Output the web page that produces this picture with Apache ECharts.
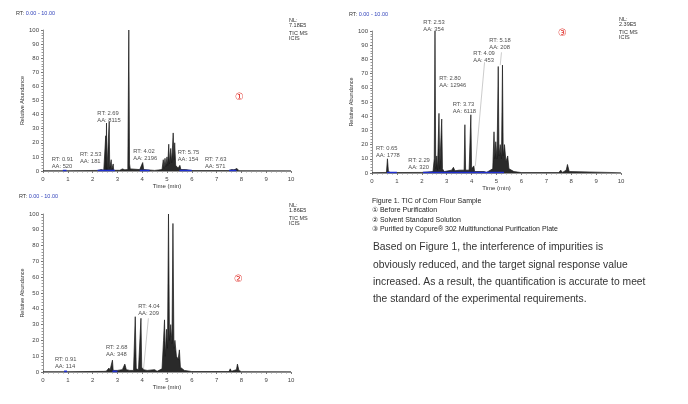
<!DOCTYPE html>
<html><head><meta charset="utf-8">
<script src="https://cdn.jsdelivr.net/npm/echarts@6/dist/echarts.min.js"></script>
<style>html,body{margin:0;padding:0;background:#fff;}#c{width:688px;height:404px;}</style>
</head><body><div id="c"></div>
<script>
// ---- data ----
const xTicks = [0,1,2,3,4,5,6,7,8,9,10];
const yTicks = [0,10,20,30,40,50,60,70,80,90,100];

// panel 1: before purification  [time (min), relative abundance]
const tic1 = [[0,0.2],[0.85,0.2],[0.9,1.2],[0.95,0.2],[2.2,0.4],[2.35,1],[2.45,0.5],[2.51,0.5],[2.53,25],[2.545,1],[2.56,34],[2.58,1],[2.65,1],[2.67,35],[2.69,2],[2.73,1],[2.75,8],[2.77,1],[2.81,1],[2.83,5],[2.85,0.5],[3.1,0.5],[3.2,1.5],[3.3,0.8],[3.42,1],[3.46,100],[3.49,5],[3.52,1.5],[3.6,0.8],[3.9,1],[4.02,6],[4.06,1],[4.5,0.4],[4.8,1],[4.85,8],[4.88,2],[4.92,9],[4.95,3],[5.0,10],[5.03,4],[5.07,19],[5.1,5],[5.15,16],[5.19,6],[5.25,27],[5.28,8],[5.31,20],[5.35,4],[5.4,5],[5.45,2],[5.52,4],[5.56,1],[5.75,1],[6,0.3],[7.5,0.3],[7.6,1],[7.7,0.8],[7.82,1.8],[7.9,0.2],[10,0.2]];
// panel 2: solvent standard solution
const tic2 = [[0,0.2],[0.85,0.2],[0.91,0.8],[0.97,0.2],[2.45,0.4],[2.5,1.5],[2.55,0.5],[2.62,1],[2.66,2.5],[2.7,1],[2.78,1],[2.8,7.5],[2.83,1],[2.9,1],[3.0,1],[3.2,1.5],[3.3,5],[3.36,1.5],[3.5,1],[3.65,1],[3.72,35],[3.76,2],[3.85,1.5],[3.95,34],[3.98,3],[4.05,1.5],[4.2,1],[4.5,1.5],[4.6,0.4],[4.8,2],[4.86,20],[4.9,33],[4.93,10],[4.98,27],[5.02,15],[5.06,100],[5.1,20],[5.15,30],[5.2,18],[5.24,94],[5.28,15],[5.32,20],[5.38,10],[5.45,8],[5.5,14],[5.54,3],[5.7,1],[6,0.3],[7.5,0.3],[7.55,2],[7.6,0.4],[7.8,1.5],[7.84,5],[7.9,1],[8.0,0.2],[10,0.2]];
// panel 3: purified by Copure 302 plate
const tic3 = [[0,0.2],[0.58,0.4],[0.62,10],[0.66,1],[0.75,0.3],[2.0,0.4],[2.45,1],[2.5,10],[2.53,100],[2.56,3],[2.6,12],[2.63,2],[2.69,42],[2.72,3],[2.76,2],[2.8,38],[2.83,3],[2.9,1],[3.2,2],[3.27,4],[3.33,1.5],[3.5,2],[3.55,1],[3.7,2],[3.73,34],[3.76,2],[3.9,2],[3.97,41],[4.0,3],[4.09,5],[4.12,1],[4.5,1],[4.55,2],[4.6,0.4],[4.85,3],[4.9,29],[4.93,10],[4.97,22],[5.02,10],[5.07,75],[5.1,12],[5.15,20],[5.2,10],[5.24,76],[5.27,12],[5.32,20],[5.38,8],[5.45,12],[5.5,3],[5.7,1],[6,0.3],[7.5,0.3],[7.58,2],[7.65,0.4],[7.8,2],[7.85,6],[7.92,1],[8.0,0.2],[10,0.2]];

// integration baselines (blue) [start, end] in min
const base1 = [[0.8,0.95],[2.2,2.9],[3.9,4.3],[5.5,6.0],[7.5,7.8]];
const base2 = [[0.85,0.97],[2.8,3.0]];
const base3 = [[0.6,1.0],[2.05,5.3]];

// peak annotations: [label left time, label centre abundance, RT, AA]
const ann1 = [[0.35,6,'0.91','520'],[1.49,9,'2.53','181'],[2.19,38.5,'2.69','8115'],[3.64,11.3,'4.02','2196'],[5.43,10.9,'5.75','154'],[6.53,6,'7.63','571']];
const ann2 = [[0.48,5.5,'0.91','114'],[2.54,13.3,'2.68','348'],[3.84,39.2,'4.04','209']];
const ann3 = [[0.16,15,'0.65','1778'],[1.46,6.3,'2.29','320'],[2.06,103.5,'2.53','354'],[2.70,64.3,'2.80','12946'],[3.24,46,'3.73','6118'],[4.07,81.9,'4.09','453'],[4.71,90.6,'5.18','208']];

// leader lines
const lead2 = [[[4.25,34],[4.05,1.3]]];
const lead3 = [[[4.52,78],[4.15,5]],[[5.2,85],[5.15,76]]];

const nl = ['7.18E5','1.86E5','2.39E5'];
const rtRange = 'RT: 0.00 - 10.00';
const caption = ['Figure 1. TIC of Corn Flour Sample','\u2460 Before Purification','\u2461 Solvent Standard Solution','\u2462 Purified by Copure\u00AE 302 Multifunctional Purification Plate'];
const para = ['Based on Figure 1, the interference of impurities is','obviously reduced, and the target signal response value','increased. As a result, the quantification is accurate to meet','the standard of the experimental requirements.'];

// ---- chart ----
const FONT = 'Liberation Sans, Arial, sans-serif';
const grids = [
  {left:43, top:30, width:248, height:141},
  {left:43, top:214, width:248, height:158},
  {left:372, top:31, width:249, height:142}
];
function xAxis(i){return {gridIndex:i,type:'value',min:0,max:10,interval:1,
  axisLine:{lineStyle:{color:'#777',width:0.8}},axisTick:{length:2,lineStyle:{color:'#777'}},
  minorTick:{show:true,splitNumber:5,length:1.5,lineStyle:{color:'#999'}},splitLine:{show:false},
  axisLabel:{fontSize:6,color:'#444',fontFamily:FONT,margin:5},
  name:'Time (min)',nameLocation:'middle',nameGap:9,nameTextStyle:{fontSize:6,color:'#333',fontFamily:FONT}};}
function yAxis(i){return {gridIndex:i,type:'value',min:0,max:100,interval:10,
  axisLine:{show:true,lineStyle:{color:'#777',width:0.8}},axisTick:{show:true,length:2,lineStyle:{color:'#777'}},
  minorTick:{show:true,splitNumber:5,length:1.5,lineStyle:{color:'#999'}},splitLine:{show:false},
  axisLabel:{fontSize:6,color:'#444',fontFamily:FONT,margin:4},
  name:'Relative Abundance',nameLocation:'middle',nameGap:14,nameRotate:90,nameTextStyle:{fontSize:5.5,color:'#333',fontFamily:FONT}};}

const series = [];
[tic1,tic2,tic3].forEach((d,i)=>{
  series.push({type:'line',xAxisIndex:i,yAxisIndex:i,data:d,symbol:'none',silent:true,
    lineStyle:{color:'#1a1a1a',width:0.7},areaStyle:{color:'#2a2a2a',opacity:1}});
});
[base1,base2,base3].forEach((segs,i)=>{
  segs.forEach(s=>{
    series.push({type:'line',xAxisIndex:i,yAxisIndex:i,data:[[s[0],0.4],[s[1],0.4]],symbol:'none',silent:true,
      lineStyle:{color:'#1f2fd0',width:1.6},z:3});
  });
});
[[],lead2,lead3].forEach((ls,i)=>{
  ls.forEach(l=>{
    series.push({type:'line',xAxisIndex:i,yAxisIndex:i,data:l,symbol:'none',silent:true,
      lineStyle:{color:'#999',width:0.5},z:2});
  });
});
[ann1,ann2,ann3].forEach((a,i)=>{
  series.push({type:'scatter',xAxisIndex:i,yAxisIndex:i,clip:false,symbolSize:0,silent:true,
    data:a.map(r=>({value:[r[0],r[1]],label:{formatter:'RT: '+r[2]+'\nAA: '+r[3]}})),
    label:{show:true,position:'right',distance:0,align:'left',fontSize:5.8,lineHeight:7,color:'#222',fontFamily:FONT},z:4});
});

const graphic = [];
function txt(x,y,text,style){graphic.push({type:'text',left:x,top:y,silent:true,style:Object.assign({text:text,fontFamily:FONT,fill:'#333',fontSize:6},style||{})});}
// RT range labels
[[16,10],[19,193],[349,11]].forEach(p=>{
  graphic.push({type:'text',left:p[0],top:p[1],silent:true,style:{text:'{a|RT: }{b|'+rtRange.slice(4)+'}',fontFamily:FONT,rich:{a:{fontSize:5.5,fill:'#333'},b:{fontSize:5.5,fill:'#3344bb'}}}});
});
// NL blocks
[[289,17],[289,202],[619,16]].forEach((p,i)=>{
  txt(p[0],p[1],'NL:\n'+nl[i],{fontSize:5.5,lineHeight:5.8});
  txt(p[0],p[1]+13,'TIC MS\nICIS',{fontSize:5.5,lineHeight:5.8});
});
// circled panel numbers
[[235,92,'\u2460'],[234,274,'\u2461'],[558,28,'\u2462']].forEach(p=>{
  txt(p[0],p[1],p[2],{fontSize:10,fill:'#e0302a',fontFamily:'DejaVu Sans'});
});
// caption
caption.forEach((c,i)=>{txt(372,197.5+i*9.4,c,{fontSize:7,fill:'#222'});});
// paragraph
para.forEach((c,i)=>{txt(373,242.5+i*17.3,c,{fontSize:10.3,fill:'#333'});});

const chart = echarts.init(document.getElementById('c'),null,{renderer:'canvas'});
chart.setOption({
  backgroundColor:'#ffffff',animation:false,
  grid:grids,
  xAxis:[xAxis(0),xAxis(1),xAxis(2)],
  yAxis:[yAxis(0),yAxis(1),yAxis(2)],
  series:series,
  graphic:graphic
});
</script></body></html>
